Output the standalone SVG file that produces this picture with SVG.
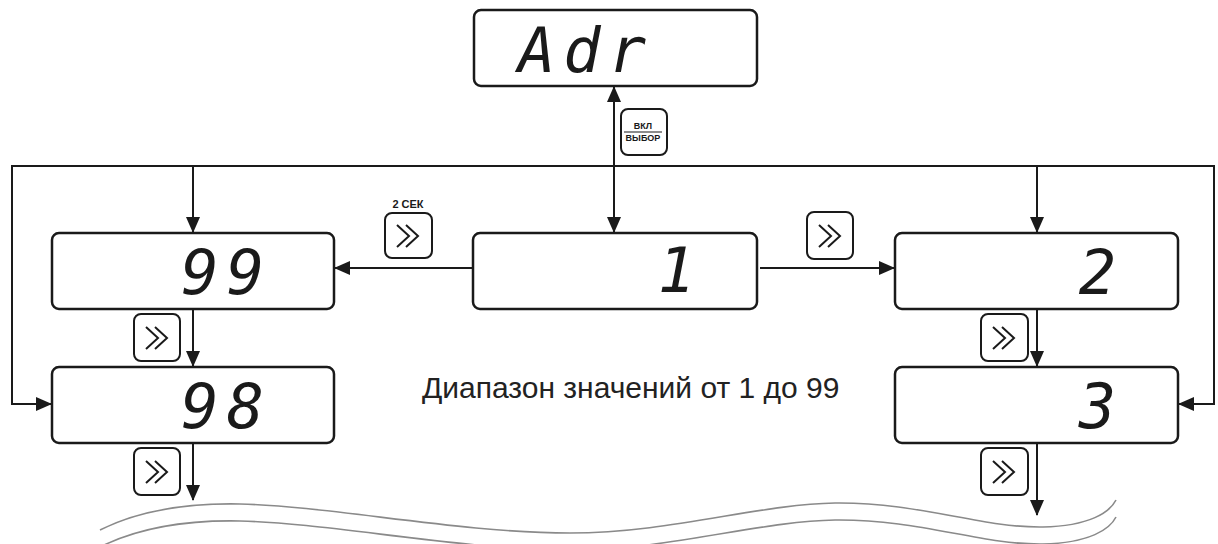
<svg xmlns="http://www.w3.org/2000/svg" width="1218" height="544" viewBox="0 0 1218 544">
<style>
.box{fill:#fff;stroke:#1a1a1a;stroke-width:2.5}
.btn{fill:#fff;stroke:#1a1a1a;stroke-width:2}
.chev{fill:none;stroke:#1a1a1a;stroke-width:2}
.ln{fill:none;stroke:#1a1a1a;stroke-width:2}
.seg{font-family:"DejaVu Sans Mono",monospace;font-style:oblique;font-size:62px;fill:#1a1a1a;text-anchor:end}
.wave{fill:none;stroke:#8a8a8a;stroke-width:1.6}
.small{font-family:"Liberation Sans",Arial,sans-serif;font-weight:bold;fill:#1a1a1a;text-anchor:middle}
</style>
<defs>
<marker id="ah" markerUnits="userSpaceOnUse" markerWidth="16" markerHeight="14" refX="15" refY="7" orient="auto">
<path d="M0,0 L16,7 L0,14 Z" fill="#1a1a1a"/>
</marker>
<marker id="ahs" markerUnits="userSpaceOnUse" markerWidth="16" markerHeight="14" refX="1" refY="7" orient="auto">
<path d="M16,0 L0,7 L16,14 Z" fill="#1a1a1a"/>
</marker>
<g id="chevrons">
<polyline class="chev" points="-11,-11 1,0 -11,11"/>
<polyline class="chev" points="-2,-11 10,0 -2,11"/>
</g>
</defs>

<g id="connectors">
<line class="ln" x1="614" y1="87" x2="614" y2="232" marker-start="url(#ahs)" marker-end="url(#ah)"/>
<polyline class="ln" points="52,404 12,404 12,166 1214,166 1214,404 1179,404" marker-end="url(#ah)"/>
<line class="ln" x1="12" y1="404" x2="51" y2="404" marker-end="url(#ah)"/>
<line class="ln" x1="193" y1="166" x2="193" y2="232" marker-end="url(#ah)"/>
<line class="ln" x1="1037" y1="166" x2="1037" y2="232" marker-end="url(#ah)"/>
<line class="ln" x1="473" y1="268" x2="335" y2="268" marker-end="url(#ah)"/>
<line class="ln" x1="760" y1="268" x2="894" y2="268" marker-end="url(#ah)"/>
<line class="ln" x1="193" y1="309" x2="193" y2="366" marker-end="url(#ah)"/>
<line class="ln" x1="1037" y1="309" x2="1037" y2="366" marker-end="url(#ah)"/>
<line class="ln" x1="193" y1="443" x2="193" y2="500" marker-end="url(#ah)"/>
<line class="ln" x1="1037" y1="443" x2="1037" y2="515" marker-end="url(#ah)"/>
</g>

<g id="node-adr">
<rect class="box" x="474" y="10" width="283" height="76" rx="7"/>
<text class="seg" x="518" y="72" style="text-anchor:start" letter-spacing="8">Adr</text>
</g>

<g id="btn-vkl">
<rect class="btn" x="621" y="109" width="46" height="46" rx="7"/>
<text class="small" x="643" y="129" font-size="9">ВКЛ</text>
<line x1="624" y1="132" x2="662" y2="132" stroke="#1a1a1a" stroke-width="1.2"/>
<text class="small" x="643" y="141" font-size="9">ВЫБОР</text>
</g>

<g id="node-1">
<rect class="box" x="473" y="233" width="284" height="76" rx="7"/>
<text class="seg" x="695" y="292">1</text>
</g>

<g id="node-99">
<rect class="box" x="52" y="233" width="282" height="76" rx="7"/>
<text class="seg" x="272" y="294" letter-spacing="8">99</text>
</g>

<g id="node-98">
<rect class="box" x="52" y="367" width="282" height="76" rx="7"/>
<text class="seg" x="272" y="428" letter-spacing="8">98</text>
</g>

<g id="node-2">
<rect class="box" x="895" y="233" width="283" height="76" rx="7"/>
<text class="seg" x="1116" y="294">2</text>
</g>

<g id="node-3">
<rect class="box" x="895" y="367" width="283" height="76" rx="7"/>
<text class="seg" x="1116" y="428">3</text>
</g>

<g id="btn-2sec">
<text class="small" x="408" y="208" font-size="11">2 СЕК</text>
<rect class="btn" x="385" y="213" width="47" height="45" rx="7"/>
<use href="#chevrons" x="408" y="236"/>
</g>

<g id="btn-right">
<rect class="btn" x="807" y="212" width="46" height="47" rx="7"/>
<use href="#chevrons" x="830" y="236"/>
</g>

<g id="btn-99-98">
<rect class="btn" x="134" y="314" width="46" height="47" rx="7"/>
<use href="#chevrons" x="157" y="338"/>
</g>

<g id="btn-2-3">
<rect class="btn" x="981" y="314" width="47" height="47" rx="7"/>
<use href="#chevrons" x="1004" y="338"/>
</g>

<g id="btn-98-down">
<rect class="btn" x="134" y="448" width="46" height="47" rx="7"/>
<use href="#chevrons" x="157" y="472"/>
</g>

<g id="btn-3-down">
<rect class="btn" x="981" y="448" width="47" height="47" rx="7"/>
<use href="#chevrons" x="1004" y="472"/>
</g>

<text x="422" y="398" font-family="'Liberation Sans',Arial,sans-serif" font-size="30" fill="#222">Диапазон значений от 1 до 99</text>

<g id="break">
<path class="wave" d="M100,530 C140,510 190,503 240,504 C330,506 460,533 570,533 C670,533 760,504 835,503 C920,502 980,528 1043,527 C1090,526 1110,512 1116,500"/>
<path class="wave" d="M100,547 C140,527 190,520 240,521 C330,523 460,550 570,550 C670,550 760,521 835,520 C920,519 980,545 1043,544 C1090,543 1110,529 1116,517"/>
</g>
</svg>
